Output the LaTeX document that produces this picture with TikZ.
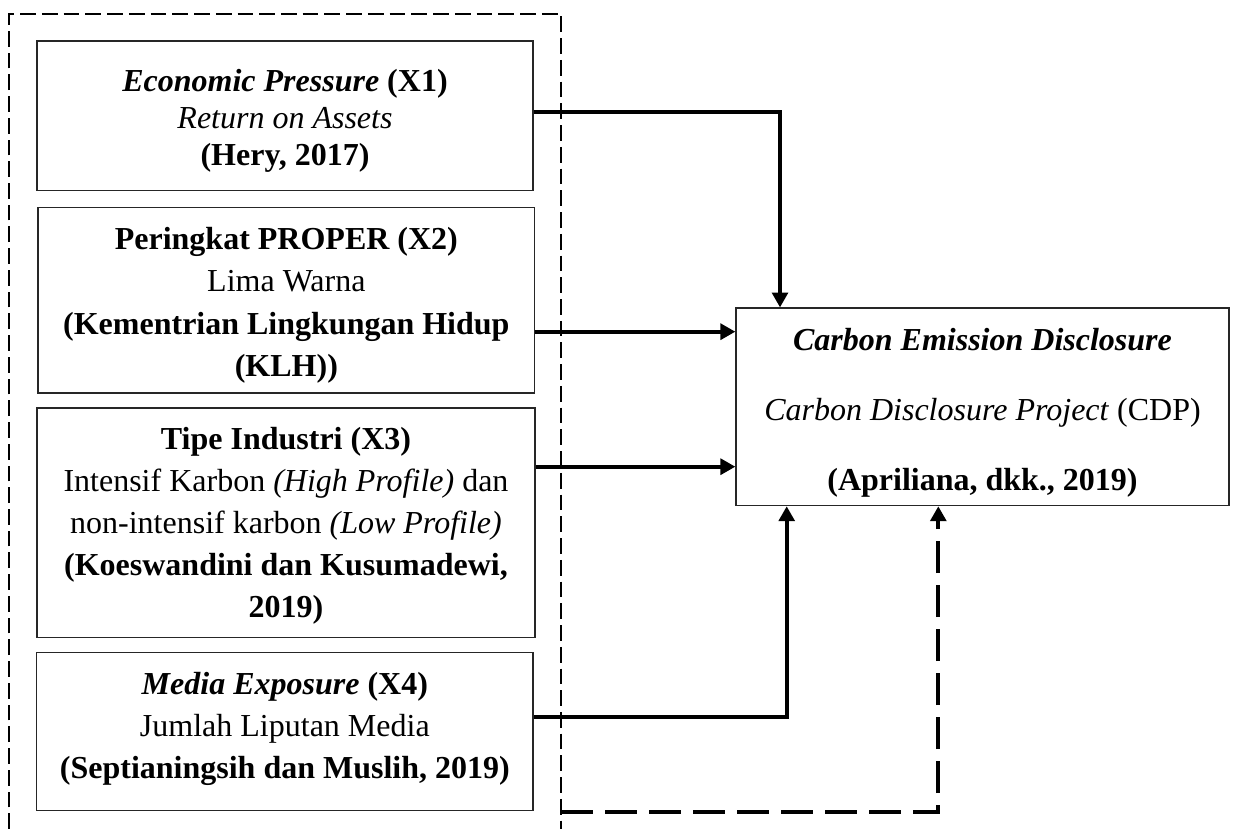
\documentclass[tikz,border=0pt]{standalone}
\usepackage{fontspec}
\setmainfont{Liberation Serif}
\usetikzlibrary{arrows.meta}
\tikzset{
  box/.style={draw=black!85, line width=0.45pt, inner sep=0pt},
  txt/.style={inner sep=0pt, align=center},
  arr/.style={line width=1.6pt, -{Triangle[width=5.9pt,length=5.6pt]}},
  arrd/.style={line width=1.6pt, dash pattern=on 11.9pt off 4.6pt, -{Triangle[width=5.9pt,length=5.6pt]}},
  frame/.style={line width=0.75pt, dash pattern=on 5.9pt off 2.25pt},
}
\begin{document}
\begin{tikzpicture}[x=0.375pt, y=-0.375pt]
\useasboundingbox (0,0) rectangle (1235,829);
% grouping frame (open at the bottom)
\draw[frame] (9.3,829) -- (9.3,14) -- (561,14) -- (561,829);

\node[box, minimum width=186pt, minimum height=56.1pt] (B1) at (285,115.85) {};
\node[txt, font=\fontsize{12}{13.9}\selectfont] (T1) at ([yshift=-1.9pt]B1.center)
  {\textbf{\textit{Economic Pressure}} \textbf{(X1)}\\ \textit{Return on Assets}\\ \textbf{(Hery, 2017)}};

\node[box, minimum width=186.3pt, minimum height=69.6pt] (B2) at (286.35,300.25) {};
\node[txt, font=\fontsize{12}{15.85}\selectfont] (T2) at ([yshift=-1.9pt]B2.center)
  {\textbf{Peringkat PROPER (X2)}\\ Lima Warna\\ \textbf{(Kementrian Lingkungan Hidup}\\ \textbf{(KLH))}};

\node[box, minimum width=186.75pt, minimum height=86.1pt] (B3) at (286,522.85) {};
\node[txt, font=\fontsize{12}{15.8}\selectfont] (T3) at ([yshift=-1.1pt]B3.center)
  {\textbf{Tipe Industri (X3)}\\ Intensif Karbon \textit{(High Profile)} dan\\ non-intensif karbon \textit{(Low Profile)}\\ \textbf{(Koeswandini dan Kusumadewi,}\\ \textbf{2019)}};

\node[box, minimum width=186.1pt, minimum height=59.25pt] (B4) at (284.85,731.7) {};
\node[txt, font=\fontsize{12}{15.75}\selectfont] (T4) at ([yshift=1.1pt]B4.center)
  {\textbf{\textit{Media Exposure}} \textbf{(X4)}\\ Jumlah Liputan Media\\ \textbf{(Septianingsih dan Muslih, 2019)}};

\node[box, minimum width=184.9pt, minimum height=74.1pt] (R) at (982.5,406.85) {};
\node[txt, font=\fontsize{12}{26.2}\selectfont] (TR) at ([yshift=-2.2pt]R.center)
  {\textbf{\textit{Carbon Emission Disclosure}}\\ \textit{Carbon Disclosure Project} (CDP)\\ \textbf{(Apriliana, dkk., 2019)}};

\coordinate (dstart) at (561,811.7);

\draw[arr] (B1.east |- 0,111.7) -| (780,0 |- R.north);
\draw[arr] (B2.east |- 0,331.7) -- (R.west |- 0,331.7);
\draw[arr] (B3.east |- 0,466.7) -- (R.west |- 0,466.7);
\draw[arr] (B4.east |- 0,716.7) -| (786.7,0 |- R.south);
\draw[arrd] (dstart) -| (938.3,0 |- R.south);
\end{tikzpicture}
\end{document}
